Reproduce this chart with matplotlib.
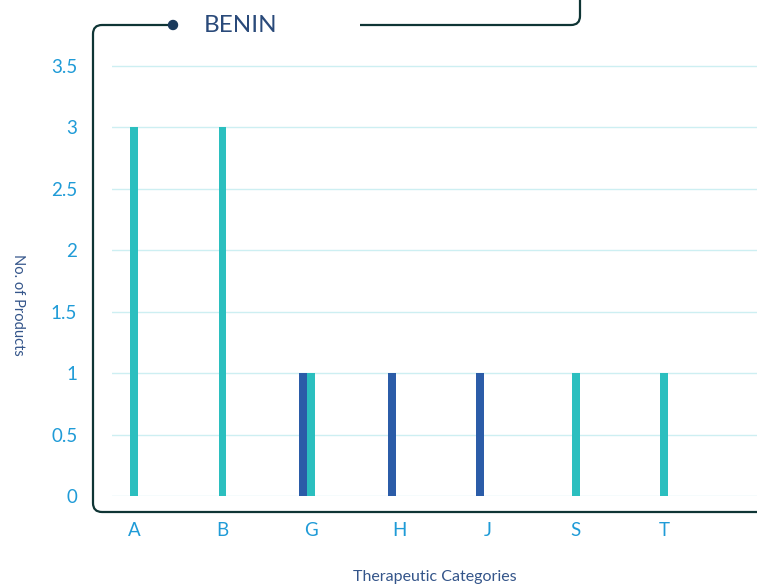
import matplotlib
matplotlib.use('Agg')
import matplotlib.pyplot as plt
import numpy as np
from matplotlib.path import Path
from matplotlib.patches import PathPatch, Circle
from matplotlib.transforms import Affine2D

categories = ['A', 'B', 'G', 'H', 'J', 'S', 'T']
blue_vals = [0, 0, 1, 1, 1, 0, 0]
teal_vals = [3, 3, 1, 0, 0, 1, 1]

blue = '#2b5ca8'
teal = '#2bbfbf'
tick_col = '#1f9bd7'
frame_col = '#0f3535'
grid_col = '#cdeff2'

plt.rcParams['font.family'] = ['Lato', 'DejaVu Sans']

W, H = 757, 585
fig = plt.figure(figsize=(W / 100, H / 100), dpi=100)
ax = fig.add_axes([112 / W, 1 - 496 / H, 1 - 112 / W, (496 - 53.6) / H])

x = np.arange(len(categories))
w = 0.088
bx = x - 0.085
ax.bar(bx[np.array(blue_vals) > 0], np.array(blue_vals)[np.array(blue_vals) > 0], width=w, color=blue, zorder=3)
ax.bar(x[np.array(teal_vals) > 0], np.array(teal_vals)[np.array(teal_vals) > 0], width=w, color=teal, zorder=3)

ax.set_xlim(-0.25, 7.05)
ax.set_ylim(0, 3.6)
ax.set_yticks(np.arange(0, 3.6, 0.5))
ax.set_yticklabels(['0', '0.5', '1', '1.5', '2', '2.5', '3', '3.5'])
ax.set_xticks(x)
ax.set_xticklabels(categories)
ax.grid(axis='y', color=grid_col, linewidth=1, zorder=0)
for s in ax.spines.values():
    s.set_visible(False)
ax.tick_params(axis='both', length=0, colors=tick_col, labelsize=13.5)
ax.tick_params(axis='y', pad=25)
ax.tick_params(axis='x', pad=19)

fig.text(18 / W, 1 - 305 / H, 'No. of Products', rotation=270, ha='center', va='center',
         fontsize=10.5, color='#34558a')
fig.text(435 / W, 1 - 577 / H, 'Therapeutic Categories', ha='center', va='center',
         fontsize=11.5, color='#34558a')
fig.text(241 / W, 1 - 25 / H, 'BENIN', ha='center', va='center', fontsize=17.5, color='#2a4a7a')

# decorative frame, in pixel coordinates
tr = Affine2D().scale(1 / W, -1 / H).translate(0, 1) + fig.transFigure
r = 9
verts = [(170, 25), (93 + r, 25), (93, 25), (93, 25 + r), (93, 512 - r), (93, 512), (93 + r, 512), (W + 5, 512)]
codes = [Path.MOVETO, Path.LINETO, Path.CURVE3, Path.CURVE3, Path.LINETO, Path.CURVE3, Path.CURVE3, Path.LINETO]
fig.add_artist(PathPatch(Path(verts, codes), fill=False, edgecolor=frame_col, lw=1.6, transform=tr))
verts2 = [(360, 25), (580 - r, 25), (580, 25), (580, 25 - r), (580, -5)]
codes2 = [Path.MOVETO, Path.LINETO, Path.CURVE3, Path.CURVE3, Path.LINETO]
fig.add_artist(PathPatch(Path(verts2, codes2), fill=False, edgecolor=frame_col, lw=1.6, transform=tr))
fig.add_artist(Circle((173, 25), 4.5, color='#1a3a5c', transform=tr))

fig.savefig('out.png', dpi=100)
